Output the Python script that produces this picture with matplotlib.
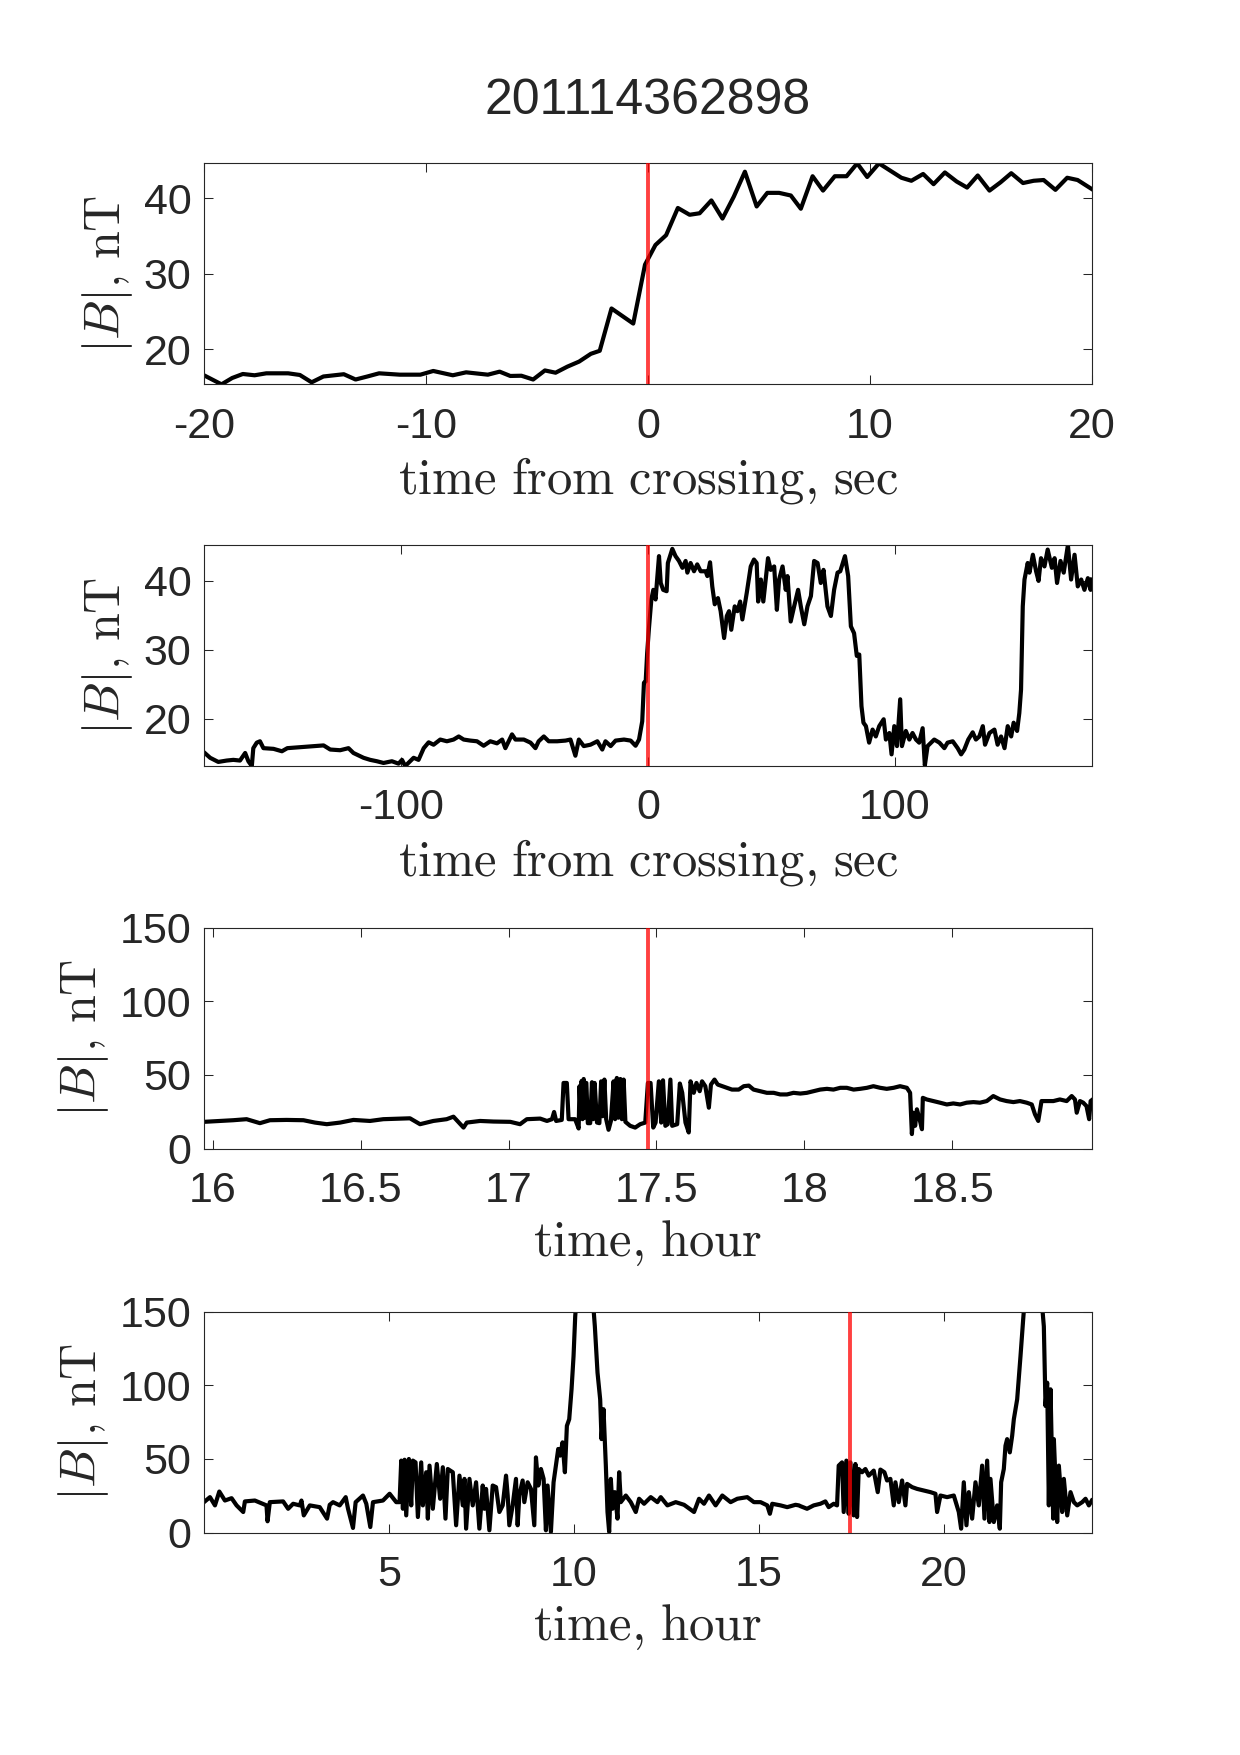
import matplotlib
matplotlib.use('Agg')
import matplotlib.pyplot as plt
from matplotlib.ticker import FuncFormatter

plt.rcParams['font.family'] = ['Liberation Sans', 'DejaVu Sans']
plt.rcParams['mathtext.fontset'] = 'cm'
plt.rcParams['axes.unicode_minus'] = False

GRAY = '#262626'
title = '201114362898'

# panel 1: +-20 s around the crossing
p1_t = [-20.0, -19.21, -18.73, -18.25, -17.72, -17.19, -16.21, -15.68, -15.15, -14.62,
        -13.70, -13.17, -12.64, -12.11, -11.18, -10.25, -9.67, -8.79, -8.19, -7.21,
        -6.68, -6.20, -5.70, -5.17, -4.64, -4.16, -3.63, -3.10, -2.57, -2.17,
        -1.64, -0.66, -0.13, 0.34, 0.82, 1.35, 1.88, 2.33, 2.86, 3.36,
        3.87, 4.37, 4.90, 5.38, 5.91, 6.44, 6.89, 7.42, 7.89, 8.42,
        8.95, 9.43, 9.88, 10.41, 10.94, 11.42, 11.87, 12.40, 12.87, 13.38,
        13.91, 14.38, 14.86, 15.39, 15.89, 16.37, 16.90, 17.38, 17.83, 18.36,
        18.89, 19.36, 20.0]
p1_b = [16.56, 15.36, 16.2, 16.73, 16.56, 16.82, 16.82, 16.6, 15.63, 16.4,
        16.7, 16.0, 16.4, 16.82, 16.64, 16.64, 17.13, 16.56, 16.95, 16.64,
        17.04, 16.47, 16.5, 16.0, 17.2, 16.9, 17.7, 18.37, 19.4, 19.8,
        25.4, 23.4, 31.2, 33.8, 35.1, 38.7, 37.8, 38.0, 39.7, 37.3,
        40.2, 43.5, 38.9, 40.7, 40.7, 40.35, 38.6, 42.9, 41.0, 42.9,
        42.9, 44.6, 42.8, 44.6, 43.6, 42.7, 42.3, 43.2, 41.85, 43.4,
        42.2, 41.4, 43.0, 41.0, 42.1, 43.3, 42.0, 42.3, 42.4, 41.1,
        42.7, 42.4, 41.2]

# panel 2: +-180 s around the crossing
p2_t = [-180.0, -177.5, -174.2, -170.8, -168.1, -165.4, -163.3, -162.0, -160.6, -160.0,
        -158.6, -157.3, -155.9, -151.8, -148.4, -146.2, -142.4, -138.3, -134.2, -131.5,
        -128.8, -124.8, -121.4, -119.4, -115.3, -112.6, -109.9, -107.2, -103.8, -101.1,
        -99.7, -98.4, -95.0, -93.0, -90.9, -88.9, -86.9, -84.2, -81.5, -78.8,
        -76.7, -74.7, -72.0, -69.3, -66.6, -63.9, -61.2, -59.1, -57.8, -55.1,
        -53.7, -50.3, -47.6, -45.6, -44.3, -42.2, -40.2, -36.8, -33.4, -31.4,
        -29.4, -28.0, -26.0, -23.3, -20.5, -18.5, -17.2, -15.1, -13.1, -9.7,
        -7.0, -5.0, -3.6, -2.3, -1.6, -0.9, -0.3,
        0.4, 1.4, 2.2, 3.1, 4.5, 5.2, 6.2, 7.6, 8.1, 9.9,
        11.2, 12.6, 14.0, 15.3, 16.0, 17.3, 18.7, 20.0, 21.4, 23.4,
        24.1, 25.2, 26.1, 27.1, 28.4, 29.5, 30.9, 32.0, 32.9, 33.8,
        35.2, 36.3, 37.4, 38.3, 40.1, 41.7, 43.0, 44.1, 44.7, 45.8,
        46.8, 48.7, 49.8, 51.2, 52.3, 53.2, 54.6, 55.9, 56.6, 57.9,
        59.3, 60.9, 62.0, 63.4, 64.7, 66.1, 67.4, 68.8, 70.1, 71.2,
        72.8, 74.2, 75.5, 76.9, 78.0, 79.9, 81.2, 82.3, 83.6, 84.7,
        85.7, 86.6, 87.4, 88.4, 89.7, 91.1, 92.4, 93.8, 95.6, 96.5,
        97.9, 98.8, 99.9, 101.0, 102.3, 103.0, 104.6, 106.0, 107.3, 108.7,
        110.0, 111.4, 112.3, 113.4, 114.8, 116.1, 118.2, 120.2, 121.5, 123.6,
        125.6, 127.0, 128.3, 129.9, 131.7, 133.0, 134.4, 135.8, 136.7, 138.5,
        140.5, 141.8, 143.2, 144.6, 145.9, 147.3, 148.3, 149.7, 150.6, 151.3,
        152.0, 152.7, 154.0, 154.7, 156.1, 157.4, 158.4, 159.4, 160.8, 162.1,
        163.8, 164.9, 165.9, 167.3, 168.6, 170.3, 171.6, 173.0, 174.3, 175.7,
        177.0, 178.4, 179.5, 180.0]
p2_b = [15.1, 14.3, 13.7, 13.9, 14.0, 13.9, 15.0, 13.8, 13.1, 15.7,
        16.5, 16.7, 15.7, 15.6, 15.25, 15.7, 15.8, 15.9, 16.0, 16.1,
        15.5, 15.4, 15.7, 15.0, 14.3, 14.0, 13.8, 13.55, 13.8, 13.45,
        14.0, 13.1, 14.3, 14.0, 15.7, 16.55, 16.2, 16.95, 16.7, 16.95,
        17.4, 16.95, 16.8, 16.7, 16.05, 16.7, 16.4, 16.95, 15.7, 17.7,
        16.95, 16.95, 16.5, 15.7, 16.7, 17.4, 16.7, 16.7, 16.8, 16.95,
        14.6, 16.95, 16.0, 16.2, 16.7, 15.5, 16.7, 16.0, 16.8, 16.95,
        16.8, 16.05, 16.95, 19.6, 25.2, 25.4, 29.5,
        33.0, 37.3, 38.7, 37.3, 43.6, 39.7, 38.7, 38.5, 42.6, 44.65,
        43.6, 42.9, 41.9, 42.9, 41.2, 42.6, 41.4, 42.4, 41.4, 41.4,
        40.7, 42.7, 39.2, 36.6, 37.5, 35.6, 31.7, 34.9, 35.6, 32.9,
        36.3, 35.6, 37.0, 34.4, 38.3, 42.1, 43.1, 42.6, 37.0, 40.2,
        37.0, 43.3, 41.6, 42.1, 35.8, 40.2, 42.1, 38.7, 40.7, 34.1,
        36.3, 38.7, 36.3, 33.7, 36.3, 37.8, 42.9, 42.6, 39.7, 41.6,
        36.3, 34.9, 38.7, 41.2, 41.4, 43.6, 40.7, 33.4, 32.4, 29.1,
        29.3, 21.8, 19.4, 18.9, 16.5, 18.4, 17.4, 18.9, 19.9, 16.95,
        17.9, 14.8, 18.9, 16.0, 22.8, 16.0, 18.2, 16.95, 17.9, 16.95,
        16.5, 18.6, 13.2, 16.0, 16.5, 16.95, 16.5, 15.7, 16.5, 16.7,
        15.7, 14.8, 15.5, 16.95, 18.0, 16.95, 17.4, 18.9, 16.2, 17.9,
        18.4, 16.2, 17.4, 15.7, 18.9, 17.4, 19.4, 18.2, 20.8, 24.2,
        36.3, 40.2, 42.6, 41.2, 43.8, 41.4, 40.0, 43.3, 42.1, 44.55,
        41.9, 43.3, 39.7, 42.9, 41.2, 45.2, 40.2, 43.8, 39.2, 40.2,
        38.7, 40.4, 38.7, 40.2]

# panel 3: +-1.5 h around the crossing
p3_t = [15.971, 16.025, 16.070, 16.115, 16.160, 16.194, 16.250, 16.307, 16.346, 16.386,
        16.431, 16.476, 16.532, 16.577, 16.634, 16.667, 16.701, 16.746, 16.791, 16.814,
        16.848, 16.859, 16.904, 16.949, 17.006, 17.039, 17.062, 17.107, 17.130, 17.147,
        17.154, 17.161, 17.180, 17.186, 17.197, 17.203, 17.225, 17.237, 17.240, 17.244,
        17.247, 17.250, 17.254, 17.257, 17.260, 17.263, 17.268, 17.276, 17.282, 17.286,
        17.291, 17.299, 17.307, 17.313, 17.318, 17.324, 17.330, 17.338, 17.346, 17.355,
        17.360, 17.366, 17.371, 17.378, 17.383, 17.389, 17.395, 17.411, 17.428, 17.445,
        17.462,
        17.471, 17.480, 17.489, 17.497, 17.508, 17.516, 17.522, 17.530, 17.538, 17.547,
        17.553, 17.570, 17.579, 17.587, 17.598, 17.609, 17.615, 17.626, 17.635, 17.646,
        17.654, 17.665, 17.677, 17.684, 17.696, 17.707, 17.722, 17.738, 17.755, 17.778,
        17.795, 17.812, 17.828, 17.851, 17.873, 17.896, 17.918, 17.941, 17.963, 17.986,
        18.008, 18.031, 18.053, 18.076, 18.098, 18.121, 18.143, 18.166, 18.188, 18.211,
        18.233, 18.256, 18.278, 18.301, 18.323, 18.346, 18.357, 18.363, 18.368, 18.374,
        18.380, 18.389, 18.397, 18.400, 18.413, 18.436, 18.458, 18.481, 18.503, 18.526,
        18.548, 18.571, 18.593, 18.616, 18.638, 18.661, 18.683, 18.706, 18.728, 18.751,
        18.768, 18.779, 18.790, 18.801, 18.818, 18.841, 18.863, 18.886, 18.903, 18.914,
        18.920, 18.931, 18.942, 18.953, 18.962, 18.967, 18.974]
p3_b = [18.2, 18.8, 19.3, 20.0, 17.3, 19.3, 19.5, 19.3, 17.7, 16.6,
        17.7, 19.5, 18.8, 20.0, 20.4, 20.6, 16.6, 18.8, 20.0, 21.7,
        14.3, 17.7, 18.8, 18.4, 18.2, 16.6, 20.0, 20.4, 18.8, 20.0,
        24.9, 18.8, 19.5, 44.6, 44.6, 20.0, 20.0, 13.7, 42.4, 22.0,
        46.0, 20.0, 47.3, 21.0, 44.6, 44.6, 17.3, 17.3, 45.1, 20.0,
        44.6, 17.7, 17.3, 45.7, 22.0, 46.9, 20.0, 12.8, 18.8, 45.7,
        20.0, 48.0, 21.0, 47.3, 20.0, 46.9, 18.2, 15.5, 14.3, 16.6,
        17.7,
        44.6, 44.6, 14.3, 17.7, 45.7, 17.7, 46.4, 15.5, 16.6, 46.9,
        15.5, 16.6, 44.2, 37.9, 17.7, 11.0, 45.7, 37.9, 44.6, 39.0,
        45.7, 42.4, 27.8, 43.5, 46.9, 43.5, 42.4, 41.3, 40.1, 40.1,
        42.4, 42.8, 40.1, 39.0, 37.9, 37.9, 36.8, 36.8, 37.9, 37.4,
        37.9, 39.0, 40.1, 40.6, 40.1, 41.3, 41.3, 40.1, 40.6, 41.3,
        42.4, 41.3, 40.6, 41.3, 42.4, 41.3, 37.9, 9.9, 24.4, 15.5,
        26.7, 20.0, 13.2, 34.5, 33.4, 32.3, 31.2, 30.0, 30.7, 30.0,
        31.2, 31.6, 31.2, 32.3, 35.7, 33.4, 32.3, 31.6, 32.3, 31.2,
        30.0, 23.3, 18.8, 32.3, 32.3, 32.3, 33.4, 32.3, 35.7, 33.4,
        24.4, 32.3, 31.2, 28.9, 20.0, 32.3, 33.4]

# panel 4: the whole day
p4_t = [0.0, 0.162, 0.297, 0.414, 0.566, 0.746, 0.881, 1.061, 1.106, 1.376,
        1.690, 1.718, 1.780, 2.140, 2.275, 2.410, 2.590, 2.635, 2.698, 2.860,
        3.129, 3.327, 3.399, 3.489, 3.669, 3.831, 3.894, 4.028, 4.100, 4.298,
        4.388, 4.496, 4.568, 4.838, 5.018, 5.197, 5.287, 5.332, 5.377, 5.422,
        5.467, 5.539, 5.602, 5.647, 5.719, 5.782, 5.872, 5.917, 6.007, 6.052,
        6.097, 6.186, 6.294, 6.384, 6.456, 6.528, 6.591, 6.726, 6.816, 6.906,
        6.996, 7.041, 7.086, 7.176, 7.265, 7.355, 7.445, 7.535, 7.580, 7.625,
        7.715, 7.805,
        7.895, 7.985, 8.075, 8.165, 8.210, 8.254, 8.344, 8.434, 8.479, 8.524,
        8.614, 8.659, 8.749, 8.839, 8.929, 8.974, 9.037, 9.109, 9.181, 9.243,
        9.288, 9.378, 9.450, 9.514, 9.576, 9.630, 9.693, 9.756, 9.810, 9.873,
        9.936, 9.990, 10.035, 10.296, 10.566, 10.638, 10.710, 10.746, 10.800, 10.863,
        10.908, 10.953, 10.998, 11.043, 11.106, 11.178, 11.223, 11.268, 11.403, 11.537,
        11.672, 11.762, 11.897, 12.077, 12.257, 12.347, 12.527, 12.752, 12.977, 13.247,
        13.382, 13.517, 13.651, 13.831, 14.011, 14.236, 14.416, 14.686, 14.866, 15.046,
        15.226, 15.298, 15.361, 15.586, 15.766, 15.991, 16.081,
        16.121, 16.302, 16.482, 16.662, 16.797, 16.887, 17.023, 17.113, 17.158, 17.248,
        17.293, 17.365, 17.428, 17.474, 17.564, 17.609, 17.654, 17.699, 17.789, 17.879,
        17.969, 18.105, 18.213, 18.285, 18.393, 18.465, 18.555, 18.646, 18.691, 18.781,
        18.871, 18.961, 19.006, 19.142, 19.277, 19.457, 19.638, 19.773, 19.818, 19.908,
        20.088, 20.269, 20.404, 20.467, 20.539, 20.611, 20.675, 20.765, 20.855, 20.945,
        21.035, 21.098, 21.170, 21.233, 21.260, 21.351, 21.441, 21.513, 21.549, 21.621,
        21.666, 21.711, 21.783, 21.847, 21.892, 21.982, 22.072, 22.144, 22.405, 22.703,
        22.748, 22.793, 22.838, 22.884, 22.956, 22.974, 23.064, 23.109, 23.199, 23.244,
        23.335, 23.424, 23.515, 23.605, 23.740, 23.830, 23.920, 24.0]
p4_b = [20.7, 24.1, 18.5, 27.9, 21.8, 23.4, 18.5, 14.0, 21.2, 21.8,
        18.5, 7.7, 20.7, 21.2, 16.2, 19.6, 18.5, 21.8, 11.7, 18.5,
        17.3, 9.5, 18.9, 20.7, 18.5, 24.1, 16.2, 3.2, 20.7, 25.2,
        19.6, 3.8, 20.7, 21.8, 26.4, 20.7, 20.7, 48.9, 16.2, 49.5,
        11.7, 50.0, 18.5, 48.9, 47.7, 10.6, 47.7, 18.5, 41.0, 9.5,
        45.5, 16.2, 46.6, 23.0, 44.4, 9.5, 43.2, 41.0, 5.0, 38.7,
        18.5, 36.5, 2.7, 36.5, 18.5, 34.2, 2.7, 32.0, 16.2, 29.7,
        1.6, 32.0,
        30.9, 14.0, 18.5, 38.7, 25.2, 5.0, 18.5, 36.5, 5.0, 25.2,
        35.4, 20.7, 34.2, 29.7, 5.0, 51.1, 32.0, 43.2, 36.5, 1.6,
        32.0, 0.5, 34.2, 45.5, 56.8, 52.3, 61.3, 41.0, 72.5, 77.0,
        97.3, 119.8, 146.8, 230.0, 140.0, 108.6, 90.5, 63.5, 83.8, 45.5,
        14.0, 0.5, 36.5, 16.2, 27.5, 9.5, 41.0, 20.7, 25.2, 20.7,
        14.0, 23.0, 19.6, 24.1, 20.7, 24.1, 18.5, 20.7, 18.9, 14.0,
        23.0, 19.6, 25.2, 18.5, 25.2, 20.7, 23.0, 24.1, 20.7, 20.7,
        18.5, 12.8, 19.6, 18.5, 17.3, 18.9, 18.5,
        18.0, 16.2, 18.5, 19.6, 21.2, 17.3, 19.6, 18.5, 45.5, 47.7,
        14.0, 48.9, 12.8, 47.7, 11.7, 46.6, 10.6, 43.2, 41.0, 43.2,
        38.7, 42.1, 27.5, 42.8, 41.0, 35.4, 36.5, 18.5, 34.2, 20.7,
        35.4, 18.5, 33.1, 30.9, 29.7, 28.6, 27.5, 26.4, 14.0, 25.2,
        24.1, 25.2, 14.0, 2.7, 34.2, 5.0, 27.5, 9.5, 34.2, 18.5,
        45.5, 9.5, 48.9, 7.2, 36.5, 7.2, 18.5, 2.7, 34.2, 43.2,
        59.0, 63.5, 54.5, 65.8, 77.0, 90.5, 119.8, 144.6, 230.0, 140.0,
        86.0, 101.8, 18.5, 97.3, 9.5, 63.5, 7.2, 45.5, 14.0, 36.5,
        11.7, 27.5, 20.7, 18.5, 20.7, 23.0, 18.5, 21.8]

t_cross = 17.471  # crossing time, hour

sec_label = r'$\mathrm{time\ from\ crossing{,}\ sec}$'
hour_label = r'$\mathrm{time{,}\ hour}$'

fig = plt.figure(figsize=(12.4, 17.55), dpi=100)

def panel(bottom, t, b, tc, xlim, ylim, xticks, yticks, xlab):
    ax = fig.add_axes([0.1645, bottom, 0.716, 0.1259])
    ax.plot(t, b, color='k', lw=3.0, zorder=2)
    ax.axvline(tc, color=(1, 0, 0), alpha=0.75, lw=2.8, zorder=3)
    ax.set_xlim(xlim)
    ax.set_ylim(ylim)
    ax.set_xticks(xticks)
    ax.set_yticks(yticks)
    ax.xaxis.set_major_formatter(FuncFormatter(lambda v, p: '%g' % v))
    ax.yaxis.set_major_formatter(FuncFormatter(lambda v, p: '%g' % v))
    ax.tick_params(direction='in', top=True, right=True, length=6.4, width=0.75,
                   labelsize=31, colors=GRAY)
    ax.tick_params(axis='x', pad=16)
    ax.tick_params(axis='y', pad=9)
    for s in ax.spines.values():
        s.set_linewidth(0.8)
        s.set_color(GRAY)
    ax.set_xlabel(xlab, fontsize=36.5, color=GRAY, labelpad=6)
    ax.set_ylabel(r'$|B|{,}\ \mathrm{nT}$', fontsize=36, color=GRAY, labelpad=6)
    return ax

panel(0.7810, p1_t, p1_b, 0, (-20, 20), (15.36, 44.6), [-20, -10, 0, 10, 20], [20, 30, 40], sec_label)
panel(0.5635, p2_t, p2_b, 0, (-180, 180), (13.1, 45.2), [-100, 0, 100], [20, 30, 40], sec_label)
panel(0.3455, p3_t, p3_b, t_cross, (t_cross - 1.5, t_cross + 1.5), (0, 150),
      [16, 16.5, 17, 17.5, 18, 18.5], [0, 50, 100, 150], hour_label)
panel(0.1267, p4_t, p4_b, t_cross, (0, 24), (0, 150), [5, 10, 15, 20], [0, 50, 100, 150], hour_label)

fig.text(0.5226, 1 - 100.7 / 1755, title, ha='center', va='center', fontsize=36, color=GRAY)

fig.savefig('out.png', dpi=100)
